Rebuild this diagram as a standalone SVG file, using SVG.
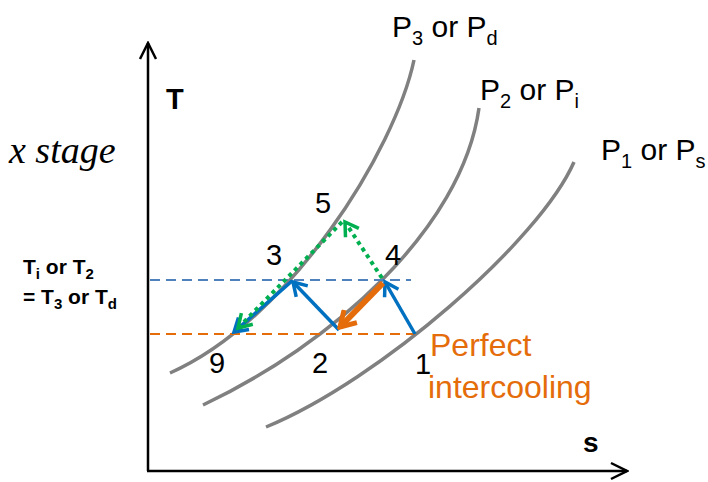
<svg xmlns="http://www.w3.org/2000/svg" width="708" height="482" viewBox="0 0 708 482">
<style>
.curve{fill:none;stroke:#808080;stroke-width:3.5}
.axis{fill:none;stroke:#000;stroke-width:2.5}
.lbl{font-family:"Liberation Sans",Arial,sans-serif;font-size:29px;fill:#000}
.plbl{font-family:"Liberation Sans",Arial,sans-serif;font-size:30px;fill:#000}
.sub{font-size:20px}
.blue{fill:none;stroke:#0070C0;stroke-width:3.5}
.green{fill:none;stroke:#00B050;stroke-width:4;stroke-dasharray:4 4}
.orange{fill:none;stroke:#E46C0A;stroke-width:6}
</style>
<defs>
<marker id="ax" viewBox="0 0 20 20" refX="18" refY="10" markerWidth="20" markerHeight="20" markerUnits="userSpaceOnUse" orient="auto">
<path d="M2,2 L18,10 L2,18" fill="none" stroke="#000" stroke-width="2.5"/>
</marker>
<marker id="mb" viewBox="0 0 20 20" refX="17" refY="10" markerWidth="20" markerHeight="20" markerUnits="userSpaceOnUse" orient="auto">
<path d="M4,2 L17,10 L4,18" fill="none" stroke="#0070C0" stroke-width="3.5"/>
</marker>
<marker id="mg" viewBox="0 0 20 20" refX="17" refY="10" markerWidth="20" markerHeight="20" markerUnits="userSpaceOnUse" orient="auto">
<path d="M4,2 L17,10 L4,18" fill="none" stroke="#00B050" stroke-width="3.5"/>
</marker>
<marker id="mo" viewBox="0 0 22 22" refX="19" refY="11" markerWidth="22" markerHeight="22" markerUnits="userSpaceOnUse" orient="auto">
<path d="M4,2 L19,11 L4,20" fill="none" stroke="#E46C0A" stroke-width="5"/>
</marker>
</defs>

<g id="axes">
<line class="axis" x1="148" y1="471" x2="148" y2="43" marker-end="url(#ax)"/>
<line class="axis" x1="147" y1="471" x2="627" y2="471" marker-end="url(#ax)"/>
<text x="166" y="109" font-family="Liberation Sans,Arial,sans-serif" font-weight="bold" font-size="29">T</text>
<text x="583" y="452" font-family="Liberation Sans,Arial,sans-serif" font-weight="bold" font-size="28">s</text>
</g>

<g id="isobars">
<path id="p3" class="curve" d="M170,373 C290,320 395,150 414,60"/>
<path id="p2" class="curve" d="M203,405 C330,345 462,230 479,108"/>
<path id="p1" class="curve" d="M266,427 C380,380 540,240 574,162"/>
</g>

<g id="dashed">
<line x1="150" y1="280" x2="411" y2="280" stroke="#4F81BD" stroke-width="2" stroke-dasharray="10 6"/>
<line x1="150" y1="334" x2="415" y2="334" stroke="#E46C0A" stroke-width="2" stroke-dasharray="10 6"/>
</g>

<g id="connectors">
<line class="blue" x1="415" y1="334" x2="385" y2="282" marker-end="url(#mb)"/>
<line class="blue" x1="339" y1="330" x2="293" y2="282" marker-end="url(#mb)"/>
<line class="blue" x1="292" y1="281" x2="234" y2="332" marker-end="url(#mb)"/>
<line class="orange" x1="383" y1="283" x2="340" y2="327" marker-end="url(#mo)"/>
<line class="green" x1="382" y1="278" x2="345" y2="222" marker-end="url(#mg)"/>
<line class="green" x1="342" y1="222" x2="238" y2="328" marker-end="url(#mg)"/>
</g>

<g id="labels">
<text class="lbl" x="323" y="213" text-anchor="middle">5</text>
<text class="lbl" x="274" y="265" text-anchor="middle">3</text>
<text class="lbl" x="393" y="265" text-anchor="middle">4</text>
<text class="lbl" x="217" y="373" text-anchor="middle">9</text>
<text class="lbl" x="320" y="373" text-anchor="middle">2</text>
<text class="lbl" x="423" y="374" text-anchor="middle">1</text>
<text class="plbl" x="392" y="37">P<tspan class="sub" dy="8">3</tspan><tspan dy="-8"> or P</tspan><tspan class="sub" dy="8">d</tspan></text>
<text class="plbl" x="480" y="100">P<tspan class="sub" dy="8">2</tspan><tspan dy="-8"> or P</tspan><tspan class="sub" dy="8">i</tspan></text>
<text class="plbl" x="601" y="160">P<tspan class="sub" dy="8">1</tspan><tspan dy="-8"> or P</tspan><tspan class="sub" dy="8">s</tspan></text>
<text x="9" y="163" font-family="Liberation Serif,Times New Roman,serif" font-style="italic" font-size="38">x stage</text>
<text x="23" y="274" font-family="Liberation Sans,Arial,sans-serif" font-weight="bold" font-size="21">T<tspan font-size="15" dy="5">i</tspan><tspan dy="-5"> or T</tspan><tspan font-size="15" dy="5">2</tspan></text>
<text x="23" y="304" font-family="Liberation Sans,Arial,sans-serif" font-weight="bold" font-size="21">= T<tspan font-size="15" dy="5">3</tspan><tspan dy="-5"> or T</tspan><tspan font-size="15" dy="5">d</tspan></text>
<text x="430" y="356" font-family="Liberation Sans,Arial,sans-serif" font-size="32" fill="#E46C0A">Perfect</text>
<text x="428" y="398" font-family="Liberation Sans,Arial,sans-serif" font-size="32" fill="#E46C0A">intercooling</text>
</g>
</svg>
